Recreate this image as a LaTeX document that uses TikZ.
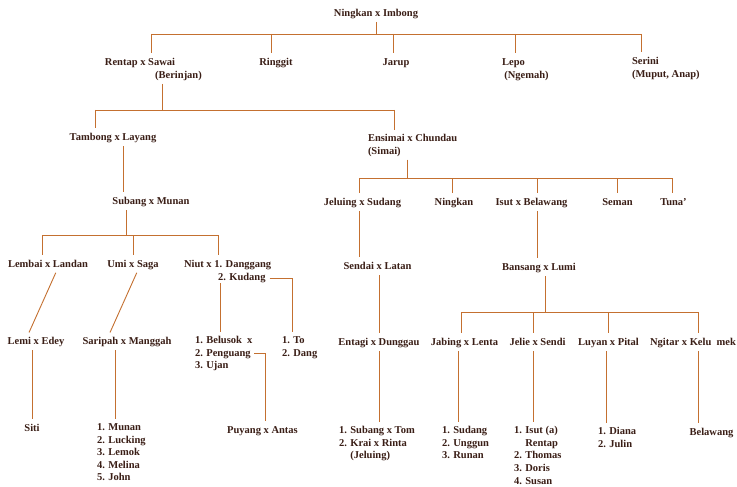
\documentclass[tikz,border=0pt]{standalone}
\usepackage{fontspec}
\setmainfont{Liberation Serif}
\usepackage{xcolor}
\usepackage{tikz}
\definecolor{linebrown}{RGB}{196,112,48}
\definecolor{textbrown}{RGB}{58,30,22}

\begin{document}
\begin{tikzpicture}[x=1pt, y=-1pt]
\tikzset{
	name node/.style = {font=\fontsize{10.5}{12.6}\selectfont\bfseries, text=textbrown, inner sep=0, outer sep=0, text height=7.5pt, text depth=2.5pt, anchor=base},
	list node/.style = {font=\fontsize{10.5}{12.6}\selectfont\bfseries, text=textbrown, inner sep=0, outer sep=0, align=left, anchor=north west},
	line/.style = {draw=linebrown, line width=0.9pt},
	bar/.style = {line, line cap=rect},
	drop/.style = {line, shorten >=5pt},
	stem/.style = {line, shorten <=3pt},
	link/.style = {line, shorten <=3pt, shorten >=5pt},
}

\fill[white] (0,0) rectangle (737,487);
\useasboundingbox (0,0) rectangle (737,487);

\node[name node] (ningkan) at (376,16.5) {Ningkan x Imbong};

\node[name node] (rentap) at (140,65.5) {Rentap x Sawai};
\node[name node] (berinjan) at (178.5,78.5) {(Berinjan)};
\node[name node] (ringgit) at (276,65.5) {Ringgit};
\node[name node] (jarup) at (396,65.5) {Jarup};
\node[name node] (lepo) at (513.5,65.5) {Lepo};
\node[name node] (ngemah) at (526.5,78.5) {(Ngemah)};
\node[list node] (serini) at (632,57.5) {Serini\\(Muput, Anap)};

\node[name node] (tambong) at (113,140.5) {Tambong x Layang};
\node[list node] (ensimai) at (368,134.5) {Ensimai x Chundau\\(Simai)};
\node[name node] (subang) at (151,204.5) {Subang x Munan};

\node[name node] (lembai) at (48,267.5) {Lembai x Landan};
\node[name node] (umi) at (133,267.5) {Umi x Saga};
\node[name node, anchor=base west] (niut) at (184,267.5) {Niut x 1. Danggang};
\node[name node, anchor=base west] (kudang) at (218,280.5) {2. Kudang};
\node[name node] (lemi) at (36,344.5) {Lemi x Edey};
\node[name node] (saripah) at (127,344.5) {Saripah x Manggah};
\node[list node] (belusok) at (195,336.5) {1. Belusok\ \ x\\2. Penguang\\3. Ujan};
\node[list node] (todang) at (282,336.5) {1. To\\2. Dang};
\node[name node] (siti) at (32,431.5) {Siti};
\node[list node] (munan) at (97,423.5) {1. Munan\\2. Lucking\\3. Lemok\\4. Melina\\5. John};
\node[name node] (puyang) at (262.5,433.5) {Puyang x Antas};

\node[name node] (jeluing) at (362.5,205.5) {Jeluing x Sudang};
\node[name node] (ningkanb) at (454,205.5) {Ningkan};
\node[name node] (isut) at (531.5,205.5) {Isut x Belawang};
\node[name node] (seman) at (617.5,205.5) {Seman};
\node[name node] (tuna) at (673.5,205.5) {Tuna'};
\node[name node] (sendai) at (377.5,269.5) {Sendai x Latan};
\node[name node] (bansang) at (539,270.5) {Bansang x Lumi};
\node[name node] (entagi) at (379,345.5) {Entagi x Dunggau};
\node[name node] (jabing) at (464.5,345.5) {Jabing x Lenta};
\node[name node] (jelie) at (537.5,345.5) {Jelie x Sendi};
\node[name node] (luyan) at (608.5,345.5) {Luyan x Pital};
\node[name node] (ngitar) at (693,345.5) {Ngitar x Kelu\ \ mek};
\node[list node] (subtom) at (339,426.5) {1. Subang x Tom\\2. Krai x Rinta\\\phantom{2. }(Jeluing)};
\node[list node] (sudang) at (442,426.5) {1. Sudang\\2. Unggun\\3. Runan};
\node[list node] (isuta) at (514,426.5) {1. Isut (a)\\\phantom{1. }Rentap\\2. Thomas\\3. Doris\\4. Susan};
\node[list node] (diana) at (598,427.5) {1. Diana\\2. Julin};
\node[name node] (belawang) at (711.5,435.5) {Belawang};

\coordinate (bara) at (376,34);
\coordinate (barb) at (162,110);
\coordinate (barc) at (126,235);
\coordinate (bard) at (407,178);
\coordinate (bare) at (545,312);

\draw[stem] (ningkan) -- (bara);
\draw[stem] (barb |- berinjan.south) -- (barb);
\draw[stem] (barc |- subang.south) -- (barc);
\draw[stem] (bard |- ensimai.south) -- (bard);
\draw[stem] (bare |- bansang.south) -- (bare);

\foreach \x/\n in {151/rentap, 271/ringgit, 393/jarup, 515/lepo, 641/serini}
	\coordinate (\n-up) at (\x,34);
\foreach \x/\n in {95/tambong, 394/ensimai}
	\coordinate (\n-up) at (\x,110);
\foreach \x/\n in {42/lembai, 133/umi, 218/niut}
	\coordinate (\n-up) at (\x,235);
\foreach \x/\n in {359/jeluing, 452/ningkanb, 537/isut, 617/seman, 672/tuna}
	\coordinate (\n-up) at (\x,178);
\foreach \x/\n in {461/jabing, 533/jelie, 608/luyan, 698/ngitar}
	\coordinate (\n-up) at (\x,312);

\draw[bar] (rentap-up) -- (serini-up);
\draw[bar] (tambong-up) -- (ensimai-up);
\draw[bar] (lembai-up) -- (niut-up);
\draw[bar] (jeluing-up) -- (tuna-up);
\draw[bar] (jabing-up) -- (ngitar-up);

\foreach \n in {rentap, ringgit, jarup, lepo, serini, tambong, ensimai, lembai, umi, niut, jeluing, ningkanb, isut, seman, tuna, jabing, jelie, luyan, ngitar}
	\draw[drop] (\n-up) -- (\n-up |- \n.north);

\foreach \x/\a/\b in {123/tambong/subang, 32/lemi/siti, 115/saripah/munan, 359/jeluing/sendai, 537/isut/bansang, 379/sendai/entagi, 379/entagi/subtom, 458/jabing/sudang, 533/jelie/isuta, 606/luyan/diana, 698/ngitar/belawang}
	{
	\coordinate (\a-down) at (\x,0);
	\draw[link] (\a-down |- \a.south) -- (\a-down |- \b.north);
	}

\draw[link] ([xshift=9pt]lembai.south) -- ([xshift=-9pt]lemi.north);
\draw[link] ([xshift=5pt]umi.south) -- ([xshift=-19pt]saripah.north);

\coordinate (kt) at (292,300);
\coordinate (kb) at (220,300);
\coordinate (pu) at (265,400);
\draw[line, shorten <=4pt, shorten >=5pt] (kudang.east) -| (kt |- todang.north);
\draw[drop] (kb |- kudang.south) -- (kb |- belusok.north);
\draw[line, shorten <=2pt, shorten >=5pt] (belusok.east) -| (pu |- puyang.north);

\end{tikzpicture}
\end{document}
